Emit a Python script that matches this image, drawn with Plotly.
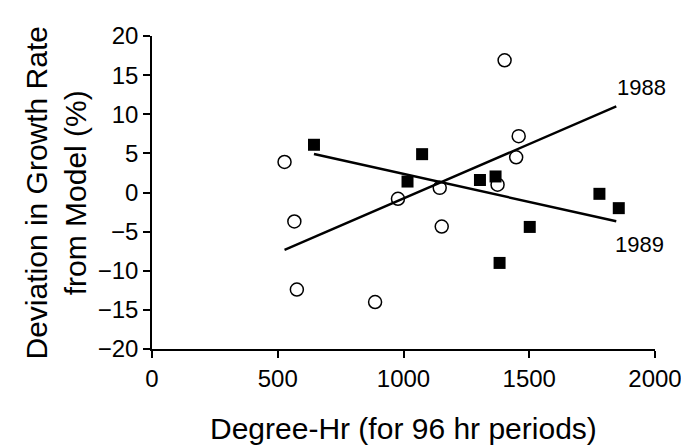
import numpy as np
import plotly.graph_objects as go

# 1988 data (open circles)
x_1988 = [527, 566, 576, 887, 978, 1144, 1152, 1402, 1374, 1458, 1448]
y_1988 = [3.9, -3.7, -12.4, -14.0, -0.8, 0.6, -4.35, 16.9, 1.0, 7.2, 4.5]

# 1989 data (filled squares)
x_1989 = [644, 1074, 1016, 1304, 1366, 1382, 1502, 1779, 1856]
y_1989 = [6.1, 4.9, 1.4, 1.6, 2.05, -9.0, -4.4, -0.17, -2.0]

x_ticks = [0, 500, 1000, 1500, 2000]
y_ticks = [-20, -15, -10, -5, 0, 5, 10, 15, 20]

FONT = "Liberation Sans, Arial, sans-serif"

# least-squares trend lines
xmax = max(max(x_1988), max(x_1989)) - 10
s88, b88 = np.polyfit(x_1988, y_1988, 1)
s89, b89 = np.polyfit(x_1989, y_1989, 1)
lx88 = [min(x_1988), xmax]
lx89 = [min(x_1989), xmax]

fig = go.Figure()
fig.add_trace(go.Scatter(x=lx88, y=[s88 * v + b88 for v in lx88], mode="lines",
                         line=dict(color="black", width=2.4), showlegend=False))
fig.add_trace(go.Scatter(x=lx89, y=[s89 * v + b89 for v in lx89], mode="lines",
                         line=dict(color="black", width=2.4), showlegend=False))
fig.add_trace(go.Scatter(x=x_1988, y=y_1988, mode="markers",
                         marker=dict(symbol="circle-open", size=13, color="black",
                                     line=dict(width=1.5)), showlegend=False))
fig.add_trace(go.Scatter(x=x_1989, y=y_1989, mode="markers",
                         marker=dict(symbol="square", size=12, color="black"),
                         showlegend=False))

fig.update_layout(
    width=689, height=446,
    margin=dict(l=144, r=42, t=28, b=105),
    paper_bgcolor="white", plot_bgcolor="white",
    font=dict(family=FONT, color="black", size=24),
    xaxis=dict(range=[0, 2000], tickvals=x_ticks, showgrid=False, zeroline=False,
               showline=True, linecolor="black", linewidth=1.5,
               ticks="outside", ticklen=7, tickwidth=1.5, tickcolor="black",
               tickfont=dict(size=24), fixedrange=True),
    yaxis=dict(range=[-20, 20], tickvals=y_ticks, showgrid=False, zeroline=False,
               showline=True, linecolor="black", linewidth=1.5,
               ticks="outside", ticklen=7, tickwidth=1.5, tickcolor="black",
               tickfont=dict(size=24), fixedrange=True),
    annotations=[
        dict(text="1988", x=1948, y=13.4, xref="x", yref="y", showarrow=False,
             font=dict(size=22)),
        dict(text="1989", x=1940, y=-6.7, xref="x", yref="y", showarrow=False,
             font=dict(size=22)),
        dict(text="Deviation in Growth Rate<br>from Model (%)", textangle=-90,
             x=0, y=0.5, xref="paper", yref="paper", xanchor="center", yanchor="middle",
             xshift=-97, showarrow=False, font=dict(size=30)),
        dict(text="Degree-Hr (for 96 hr periods)", x=0.5, y=0, xref="paper", yref="paper",
             xanchor="center", yanchor="middle", yshift=-79, showarrow=False,
             font=dict(size=30)),
    ],
)

fig.write_html("out.html")
